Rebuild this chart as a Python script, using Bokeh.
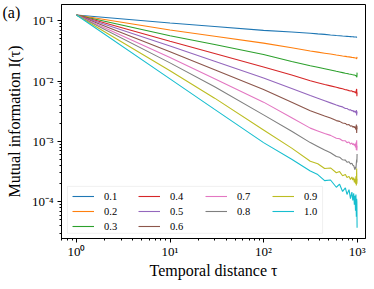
from bokeh.plotting import figure
from bokeh.models import (Range1d, Legend, LegendItem, BoxAnnotation,
                          LogTicker, CustomJSTickFormatter, Title)
from bokeh.embed import file_html
from bokeh.resources import INLINE

# ---- data (values are log10 of I(tau)) ----
TAU = [1, 10, 30, 100, 200, 316, 380, 450, 520, 600, 650, 700, 750, 780, 820, 850,
       880, 900, 920, 935, 950, 962, 972, 982, 990, 995, 1000]
PARAMS = ["0.1", "0.2", "0.3", "0.4", "0.5", "0.6", "0.7", "0.8", "0.9", "1.0"]

LOG_I_01 = [-0.905, -1.037, -1.095, -1.159, -1.187,
            -1.206, -1.217, -1.226, -1.235, -1.243, -1.247, -1.252, -1.256, -1.258, -1.261, -1.263,
            -1.265, -1.266, -1.267, -1.268, -1.269, -1.270, -1.270, -1.271, -1.271, -1.272, -1.272]
LOG_I_02 = [-0.905, -1.154, -1.257, -1.370, -1.448,
            -1.500, -1.519, -1.537, -1.552, -1.567, -1.575, -1.583, -1.590, -1.594, -1.599, -1.603,
            -1.607, -1.609, -1.611, -1.613, -1.615, -1.616, -1.617, -1.625, -1.632, -1.612, -1.598]
LOG_I_03 = [-0.905, -1.249, -1.393, -1.560, -1.675,
            -1.745, -1.771, -1.795, -1.816, -1.837, -1.848, -1.859, -1.869, -1.874, -1.882, -1.887,
            -1.892, -1.895, -1.898, -1.900, -1.903, -1.906, -1.912, -1.918, -1.928, -1.935, -1.860]
LOG_I_04 = [-0.905, -1.338, -1.543, -1.767, -1.900,
            -1.995, -2.026, -2.055, -2.079, -2.103, -2.117, -2.128, -2.143, -2.146, -2.158, -2.165,
            -2.160, -2.178, -2.172, -2.183, -2.178, -2.190, -2.200, -2.150, -2.130, -2.250, -2.190]
LOG_I_05 = [-0.905, -1.418, -1.671, -1.948, -2.123,
            -2.240, -2.285, -2.326, -2.361, -2.396, -2.415, -2.428, -2.455, -2.455, -2.478, -2.475,
            -2.495, -2.485, -2.510, -2.495, -2.515, -2.500, -2.530, -2.480, -2.570, -2.500, -2.540]
LOG_I_06 = [-0.905, -1.513, -1.811, -2.138, -2.349,
            -2.490, -2.536, -2.579, -2.612, -2.655, -2.668, -2.695, -2.702, -2.725, -2.722, -2.748,
            -2.740, -2.765, -2.750, -2.775, -2.755, -2.790, -2.800, -2.720, -2.860, -2.740, -2.800]
LOG_I_07 = [-0.905, -1.608, -1.961, -2.349, -2.608,
            -2.780, -2.826, -2.869, -2.900, -2.948, -2.955, -2.990, -2.990, -3.020, -3.010, -3.045,
            -3.025, -3.055, -3.035, -3.070, -3.045, -3.100, -3.020, -3.140, -2.980, -3.150, -3.070]
LOG_I_08 = [-0.905, -1.698, -2.094, -2.560, -2.831,
            -3.020, -3.084, -3.142, -3.188, -3.250, -3.262, -3.305, -3.310, -3.345, -3.338, -3.375,
            -3.360, -3.395, -3.400, -3.440, -3.470, -3.420, -3.450, -3.360, -3.300, -3.350, -3.210]
LOG_I_09 = [-0.905, -1.830, -2.283, -2.810, -3.111,
            -3.330, -3.370, -3.450, -3.440, -3.520, -3.500, -3.570, -3.550, -3.600, -3.580, -3.630,
            -3.590, -3.640, -3.600, -3.680, -3.620, -3.700, -3.580, -3.730, -3.450, -3.700, -3.620]
LOG_I_10 = [-0.905, -1.963, -2.469, -3.020, -3.295,
            -3.490, -3.550, -3.650, -3.640, -3.760, -3.710, -3.830, -3.770, -3.880, -3.800, -3.950,
            -3.840, -3.980, -3.860, -4.050, -3.900, -4.150, -3.880, -4.250, -3.950, -4.000, -4.430]

SERIES = [LOG_I_01, LOG_I_02, LOG_I_03, LOG_I_04, LOG_I_05,
          LOG_I_06, LOG_I_07, LOG_I_08, LOG_I_09, LOG_I_10]
COLORS = ["#1f77b4", "#ff7f0e", "#2ca02c", "#d62728", "#9467bd",
          "#8c564b", "#e377c2", "#7f7f7f", "#bcbd22", "#17becf"]

FONT = "Liberation Serif"

# axis extents in log10 units (layout)
X_LO, X_HI = -0.16, 3.09
Y_LO, Y_HI = -4.61, -0.73

p = figure(width=366, height=281, x_axis_type="log", y_axis_type="log",
           x_range=Range1d(10 ** X_LO, 10 ** X_HI),
           y_range=Range1d(10 ** Y_LO, 10 ** Y_HI),
           output_backend="svg", toolbar_location=None,
           min_border_left=61, min_border_right=1, min_border_top=4, min_border_bottom=36)

p.xgrid.visible = False
p.ygrid.visible = False
p.outline_line_color = "black"
p.outline_line_width = 1
p.outline_line_alpha = 1
p.background_fill_color = "white"
p.border_fill_color = "white"

sup_code = """
const e = Math.round(Math.log10(tick));
const sup = {'-':'\u207b','0':'\u2070','1':'\u00b9','2':'\u00b2','3':'\u00b3','4':'\u2074','5':'\u2075','6':'\u2076','7':'\u2077','8':'\u2078','9':'\u2079'};
return '10' + String(e).split('').map(c => sup[c]).join('');
"""

for ax, standoff in ((p.xaxis[0], 1), (p.yaxis[0], 4)):
    ax.ticker = LogTicker(num_minor_ticks=10)
    ax.formatter = CustomJSTickFormatter(code=sup_code)
    ax.axis_line_color = "black"
    ax.major_tick_line_color = "black"
    ax.minor_tick_line_color = "black"
    ax.major_tick_out = 4
    ax.major_tick_in = 0
    ax.minor_tick_out = 2
    ax.minor_tick_in = 0
    ax.major_label_text_font = FONT
    ax.major_label_text_font_size = "13px"
    ax.major_label_text_color = "black"
    ax.major_label_standoff = standoff
    ax.axis_label_text_font = FONT
    ax.axis_label_text_font_size = "16px"
    ax.axis_label_text_font_style = "normal"
    ax.axis_label_text_color = "black"

p.xaxis[0].axis_label = "Temporal distance \u03c4"
p.xaxis[0].axis_label_standoff = 0
p.yaxis[0].axis_label = "Mutual information I(\u03c4)"
p.yaxis[0].axis_label_standoff = 6

renderers = []
for logs, c in zip(SERIES, COLORS):
    vals = [10 ** v for v in logs]
    r = p.line(TAU, vals, line_color=c, line_width=1.1)
    renderers.append(r)

# legend frame (box corners in log10 data units)
box = BoxAnnotation(left=10 ** -0.096, right=10 ** 2.631,
                    top=10 ** -3.746, bottom=10 ** -4.524,
                    fill_color="white", fill_alpha=0.85,
                    line_color="#cccccc", line_width=1)
p.add_layout(box)

cols = [[0, 1, 2], [3, 4, 5], [6, 7], [8, 9]]
xoffs = [11, 77, 144, 211]
for col, xo in zip(cols, xoffs):
    items = [LegendItem(label=PARAMS[i], renderers=[renderers[i]]) for i in col]
    yo = 6 if len(col) == 3 else 21
    leg = Legend(items=items, location=(xo, yo), orientation="vertical",
                 padding=0, margin=0, spacing=3,
                 glyph_width=22, glyph_height=12, label_height=12,
                 label_standoff=10, label_text_font=FONT,
                 label_text_font_size="10.5px", label_text_color="black",
                 border_line_alpha=0, background_fill_alpha=0)
    p.add_layout(leg)

# panel tag "(a)": a title in the top border that reserves (almost) no height
tag = Title(text="\n(a)", align="left", offset=-59, standoff=-36,
            vertical_align="top", text_font=FONT, text_font_size="16px",
            text_font_style="normal", text_color="black")
p.add_layout(tag, "above")

open("out.html", "w").write(file_html(p, INLINE))
